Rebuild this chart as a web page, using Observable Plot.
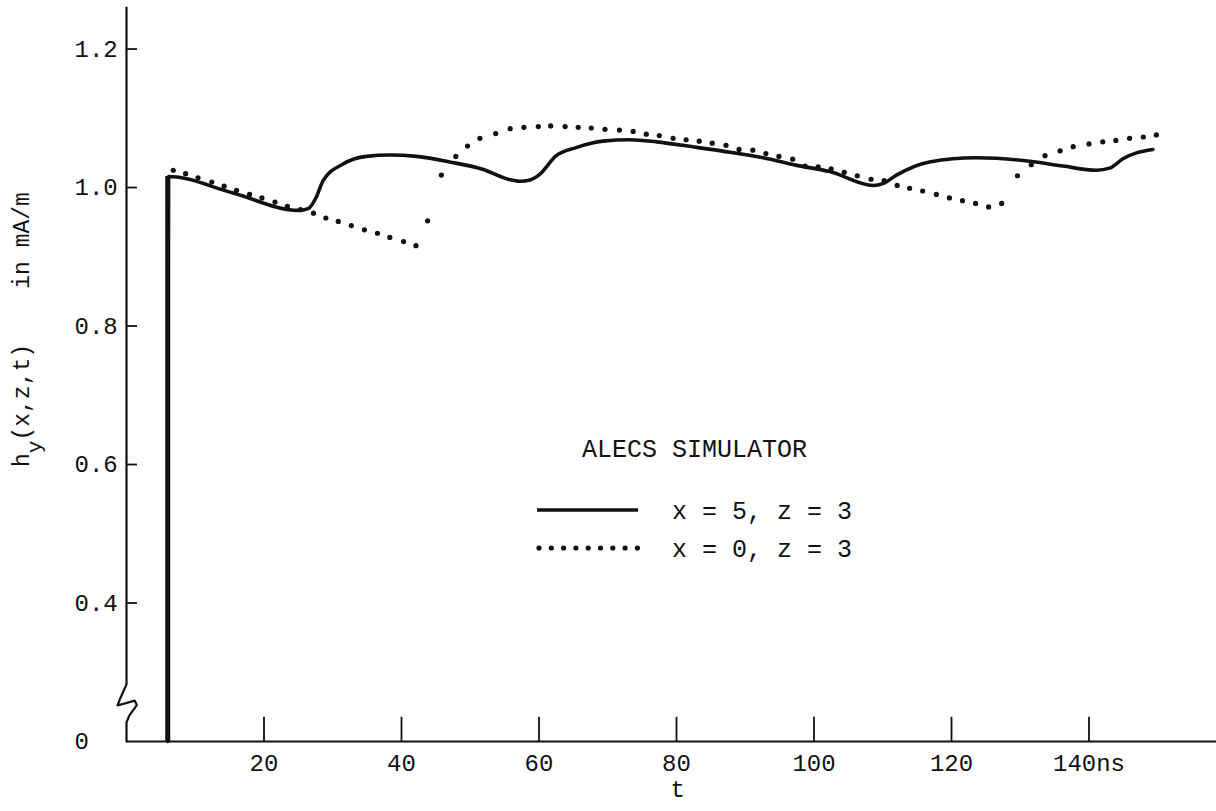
<!DOCTYPE html>
<html>
<head>
<meta charset="utf-8">
<script src="https://cdn.jsdelivr.net/npm/d3@7"></script>
<script src="https://cdn.jsdelivr.net/npm/@observablehq/plot@0.6"></script>
<style>
  html, body { margin: 0; padding: 0; background: #fff; }
  #chart { width: 1216px; height: 811px; overflow: hidden; }
</style>
</head>
<body>
<div id="chart"></div>
<script>
// ---- data (t in ns, h_y in mA/m) ----
const solidT = [6.0, 6.1, 15.5, 25.0, 26.5, 27.6, 28.6, 31.5, 34.9, 38.3, 42.2, 47.0, 51.9, 55.5, 57.2, 58.7, 60.1, 62.5, 65.5, 69.3, 73.2, 77.1, 82.9, 87.8, 92.6, 97.5, 102.3, 108.6, 110.1, 112.0, 116.8, 123.6, 131.4, 136.2, 141.1, 143.0, 145.0, 146.9, 149.3];
const solidH = [0, 1.016, 0.992, 0.967, 0.970, 0.986, 1.010, 1.034, 1.045, 1.047, 1.045, 1.037, 1.026, 1.012, 1.009, 1.011, 1.019, 1.046, 1.058, 1.067, 1.069, 1.066, 1.058, 1.051, 1.043, 1.032, 1.023, 1.003, 1.006, 1.018, 1.037, 1.043, 1.038, 1.031, 1.025, 1.028, 1.042, 1.050, 1.055];

const dottedT = [6.8, 8.6, 10.4, 12.4, 14.2, 16.0, 17.9, 19.7, 21.6, 23.4, 25.3, 27.2, 29.0, 30.8, 32.7, 34.6, 36.5, 38.3, 40.3, 42.1, 43.8, 45.8, 47.9, 49.6, 51.4, 53.7, 55.8, 57.8, 59.9, 61.7, 63.8, 65.7, 67.6, 69.6, 71.7, 73.7, 75.6, 77.5, 79.5, 81.4, 83.3, 85.2, 87.2, 89.1, 91.1, 93.0, 94.9, 96.9, 98.7, 100.6, 102.5, 104.4, 106.3, 108.3, 110.2, 112.1, 113.9, 115.8, 117.8, 119.7, 121.6, 123.5, 125.4, 127.3, 129.6, 131.6, 133.6, 135.8, 137.7, 140.0, 142.0, 143.9, 145.9, 147.9, 149.8];
const dottedH = [1.025, 1.020, 1.014, 1.008, 1.002, 0.996, 0.990, 0.985, 0.979, 0.973, 0.968, 0.963, 0.956, 0.951, 0.945, 0.939, 0.934, 0.928, 0.922, 0.916, 0.952, 1.018, 1.045, 1.060, 1.071, 1.078, 1.085, 1.087, 1.088, 1.089, 1.088, 1.087, 1.086, 1.084, 1.083, 1.081, 1.077, 1.075, 1.071, 1.069, 1.067, 1.064, 1.061, 1.055, 1.054, 1.049, 1.045, 1.041, 1.031, 1.030, 1.027, 1.022, 1.017, 1.012, 1.010, 1.003, 0.999, 0.995, 0.990, 0.985, 0.981, 0.977, 0.972, 0.977, 1.017, 1.033, 1.046, 1.053, 1.059, 1.063, 1.066, 1.068, 1.071, 1.073, 1.076];

const seriesNames = ["x = 5, z = 3", "x = 0, z = 3"];
const legendTitle = "ALECS SIMULATOR";

const yTickValues = [0.4, 0.6, 0.8, 1.0, 1.2];
const yLabelValues = [0, 0.4, 0.6, 0.8, 1.0, 1.2];
const yLabelTexts = ["0", "0.4", "0.6", "0.8", "1.0", "1.2"];
const xTickValues = [20, 40, 60, 80, 100, 120, 140];
const xTickLabels = ["20", "40", "60", "80", "100", "120", "140ns"];

// y axis with its break symbol (in axis units)
const axisBreakT = [0, 0, 0.4, 1.5, 1.2, -1.3, -0.9, 0, 0];
const axisBreakH = [0, 0.055, 0.075, 0.105, 0.118, 0.104, 0.125, 0.165, 1.26];

// ---- layout ----
const W = 1216, H = 811, mL = 126, mT = 7, mB = 70;
const font = "'Liberation Mono', 'DejaVu Sans Mono', monospace";
const ink = "#111";

// broken axis: the interval [0, 0.4] is drawn at half scale
const breakAt = 0.4, breakScale = 0.5;
const yBreak = v => v < breakAt ? breakAt - (breakAt - v) * breakScale : v;

const solid = solidT.map((t, i) => ({t, h: solidH[i]}));
const dotted = dottedT.map((t, i) => ({t, h: dottedH[i]}));
const axisPath = axisBreakT.map((t, i) => ({t, h: axisBreakH[i]}));

const chart = Plot.plot({
  width: W, height: H,
  marginLeft: mL, marginRight: 0, marginTop: mT, marginBottom: mB,
  style: {background: "#fff", fontFamily: font, color: ink, overflow: "visible"},
  x: {domain: [0, (W - mL) / 6.875], axis: null},
  y: {transform: yBreak, domain: [yBreak(0), 1.26], axis: null},
  marks: [
    Plot.ruleY([0], {stroke: ink, strokeWidth: 2}),
    Plot.line(axisPath, {x: "t", y: "h", stroke: ink, strokeWidth: 2.2, strokeLinejoin: "round"}),
    Plot.ruleY(yTickValues, {y: d => d, x1: 0, x2: 1.6, stroke: ink, strokeWidth: 1.8}),
    Plot.ruleX(xTickValues, {x: d => d, y1: 0, y2: 0.07, stroke: ink, strokeWidth: 1.8}),
    Plot.text(yLabelValues, {y: d => d, text: (d, i) => yLabelTexts[i], frameAnchor: "left", dx: -52, textAnchor: "start", fontSize: 24, fill: ink}),
    Plot.text(xTickValues, {x: d => d, text: (d, i) => xTickLabels[i], frameAnchor: "bottom", dy: 29, fontSize: 24, fill: ink}),
    Plot.text(["t"], {text: d => d, frameAnchor: "bottom-left", dx: 544, dy: 55, fontSize: 24, fill: ink}),
    // the initial step of the solid curve is drawn heavier, as in the original
    Plot.ruleX([solid[0]], {x: "t", y1: () => solidH[0], y2: () => solidH[1], stroke: ink, strokeWidth: 5}),
    Plot.line(solid, {x: "t", y: "h", curve: "monotone-x", stroke: ink, strokeWidth: 3.6, strokeLinejoin: "round"}),
    Plot.dot(dotted, {x: "t", y: "h", r: 2.6, fill: ink, stroke: "none"})
  ]
});
document.getElementById("chart").appendChild(chart);

// ---- y label and legend ----
const svg = d3.select(chart);
const yl = svg.append("text")
  .attr("transform", "translate(29,467) rotate(-90)")
  .attr("font-family", font).attr("font-size", 23).attr("fill", ink)
  .attr("text-anchor", "start");
yl.append("tspan").text("h");
yl.append("tspan").attr("dy", 12).attr("font-size", 21).text("y");
yl.append("tspan").attr("dy", -12).text("(x,z,t)    in mA/m");

const lg = svg.append("g").attr("font-family", font).attr("fill", ink).attr("font-size", 25)
  .attr("text-anchor", "start");
lg.append("text").attr("x", 582).attr("y", 448).attr("dy", "0.35em").text(legendTitle);
lg.append("line").attr("x1", 537).attr("x2", 638).attr("y1", 510).attr("y2", 510)
  .attr("stroke", ink).attr("stroke-width", 3.6);
lg.append("text").attr("x", 672).attr("y", 510).attr("dy", "0.35em").text(seriesNames[0]);
lg.selectAll("circle.lg").data(d3.range(9)).join("circle")
  .attr("cx", i => 539 + i * 12.3).attr("cy", 548).attr("r", 2.6).attr("fill", ink);
lg.append("text").attr("x", 672).attr("y", 548).attr("dy", "0.35em").text(seriesNames[1]);
</script>
</body>
</html>
